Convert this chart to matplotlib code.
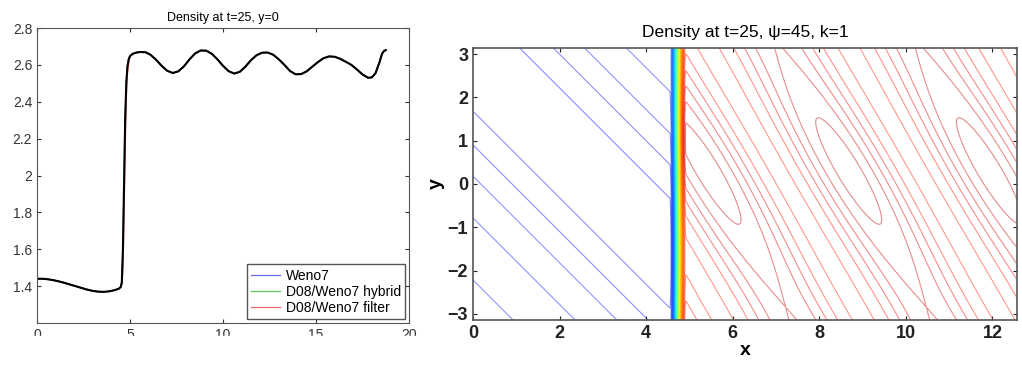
import matplotlib
matplotlib.use('Agg')
import matplotlib.pyplot as plt
import numpy as np
from matplotlib.patches import Rectangle
from matplotlib.colors import Normalize

plt.rcParams['font.family'] = ['Liberation Sans', 'DejaVu Sans']

# --- left panel: density along y=0 ---
x_line = [0, 0.3, 0.6, 0.9, 1.2, 1.5, 1.8, 2.1, 2.4, 2.7, 3.0, 3.3, 3.6, 3.9, 4.2,
          4.4, 4.5, 4.56, 4.62, 4.68, 4.74, 4.8, 4.86, 4.93, 5.0, 5.15, 5.35, 5.6,
          5.85, 6.1, 6.4, 6.7, 7.0, 7.3, 7.6, 7.9, 8.2, 8.5, 8.8, 9.1, 9.4, 9.7,
          10.0, 10.3, 10.6, 10.9, 11.2, 11.5, 11.8, 12.1, 12.4, 12.7, 13.0, 13.3,
          13.6, 13.9, 14.2, 14.5, 14.8, 15.1, 15.4, 15.7, 16.0, 16.3, 16.6, 16.9,
          17.2, 17.5, 17.8, 18.0, 18.2, 18.4, 18.55, 18.65, 18.75]
rho_weno7 = [1.440, 1.440, 1.437, 1.432, 1.425, 1.417, 1.408, 1.399, 1.390, 1.381,
             1.374, 1.370, 1.369, 1.372, 1.379, 1.386, 1.395, 1.42, 1.6, 1.95,
             2.3, 2.5, 2.59, 2.63, 2.648, 2.66, 2.667, 2.67, 2.668, 2.655, 2.628,
             2.595, 2.568, 2.556, 2.565, 2.592, 2.63, 2.662, 2.678, 2.677, 2.66,
             2.63, 2.595, 2.566, 2.553, 2.562, 2.59, 2.625, 2.652, 2.666, 2.667,
             2.655, 2.63, 2.6, 2.567, 2.549, 2.55, 2.565, 2.59, 2.615, 2.636,
             2.646, 2.644, 2.633, 2.617, 2.6, 2.575, 2.548, 2.53, 2.532, 2.555,
             2.61, 2.66, 2.675, 2.68]
rho_hybrid = list(rho_weno7)
rho_filter = rho_weno7[:17] + [1.41, 1.5, 1.8, 2.15, 2.42, 2.55, 2.61] + rho_weno7[24:]
series = [('Weno7', rho_weno7, '#6a6ae8'),
          ('D08/Weno7 hybrid', rho_hybrid, '#5cc85c'),
          ('D08/Weno7 filter', rho_filter, '#f06a6a')]

# --- right panel: model density field parameters ---
x_max, y_max = 4 * np.pi, np.pi
shock_left, shock_right = 4.55, 4.92
rho_up, amp_up, period_up, c_min_up = 1.405, 0.04, 8.9, 2.95
rho_down, amp_down, lam_down, tilt_down, x0_down = 2.605, 0.05, 3.25, 0.57, 5.6
mod_down, y0_down = 0.3, 0.3
level_min, level_max, level_step = 1.38, 2.70, 0.02

fig = plt.figure(figsize=(10.22, 3.67), dpi=100)

# left axes
ax1 = fig.add_axes([37/1022, 44/367, 372/1022, 295/367])
for name, rho, c in series:
    ax1.plot(x_line, rho, color=c, lw=1.0, label=name)
ax1.plot(x_line, rho_weno7, color='black', lw=1.5, label='_nolegend_')
ax1.set_xlim(0, 20)
ax1.set_ylim(1.2, 2.8)
ax1.set_xticks([0, 5, 10, 15, 20])
ax1.set_yticks([1.4, 1.6, 1.8, 2.0, 2.2, 2.4, 2.6, 2.8])
ax1.set_yticklabels(['1.4', '1.6', '1.8', '2', '2.2', '2.4', '2.6', '2.8'])
ax1.tick_params(direction='in', top=True, right=True, labelsize=10, length=3, colors='#333333')
ax1.set_title('Density at t=25, y=0', fontsize=9, pad=5)
for s in ax1.spines.values():
    s.set_color('#555555')
leg = ax1.legend(loc='lower right', fontsize=10, handlelength=2.1, borderpad=0.3,
                 labelspacing=0.15, handletextpad=0.4, fancybox=False, framealpha=1,
                 borderaxespad=0.3)
leg.get_frame().set_edgecolor('#555555')
for line in leg.get_lines():
    line.set_linewidth(0.9)

# right axes: contour plot
ax2 = fig.add_axes([473/1022, 47/367, 544/1022, 272/367])
xg = np.linspace(0, x_max, 1400)
yg = np.linspace(-y_max, y_max, 320)
X, Y = np.meshgrid(xg, yg)
up = rho_up - amp_up * np.cos(2 * np.pi * (X + Y - c_min_up) / period_up)
phase = np.cos(2 * np.pi * (X + tilt_down * Y - x0_down) / lam_down)
down = rho_down + amp_down * (phase + mod_down * np.cos(Y - y0_down) * (1 + phase) / 2)
t = np.clip((X - shock_left) / (shock_right - shock_left), 0, 1)
w = t * t * (3 - 2 * t)
rho = (1 - w) * up + w * down
levels = np.arange(level_min, level_max, level_step)
ax2.contour(X, Y, rho, levels=levels, cmap='jet', norm=Normalize(1.2, 2.75),
            linewidths=0.8, alpha=0.45)
ax2.set_xlim(0, x_max)
ax2.set_ylim(-y_max, y_max)
ax2.set_xticks([0, 2, 4, 6, 8, 10, 12])
ax2.set_yticks([-3, -2, -1, 0, 1, 2, 3])
ax2.set_yticklabels(['\u22123', '\u22122', '\u22121', '0', '1', '2', '3'])
ax2.tick_params(direction='in', top=True, right=True, labelsize=13, length=3, colors='#222222')
for lab in ax2.get_xticklabels() + ax2.get_yticklabels():
    lab.set_fontweight('bold')
ax2.set_xlabel('x', fontsize=14, fontweight='bold', labelpad=0)
ax2.set_ylabel('y', fontsize=14, fontweight='bold', labelpad=2)
ax2.set_title('Density at t=25, \u03c8=45, k=1', fontsize=12.5, pad=8)
for s in ax2.spines.values():
    s.set_color('#555555')
    s.set_linewidth(1.2)

# lower halves of the left panel tick labels are cut off in the original
fig.add_artist(Rectangle((0, 0), 420/1022, 31/367, transform=fig.transFigure,
                         color='white', zorder=10))

fig.savefig('out.png', dpi=100)
